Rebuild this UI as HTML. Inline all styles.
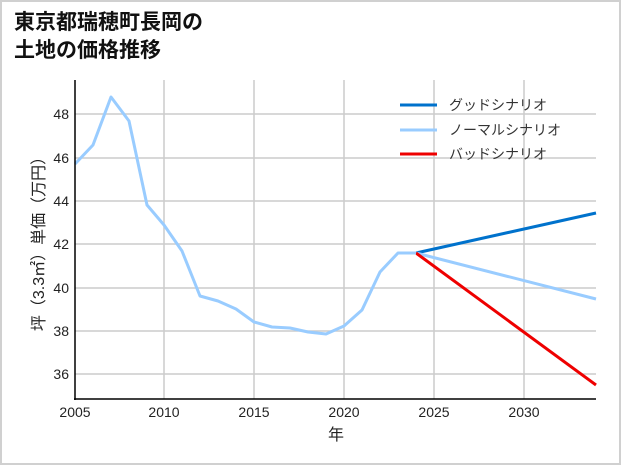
<!DOCTYPE html><html><head><meta charset="utf-8"><style>
body{margin:0;background:#fff}
svg{display:block}
text{font-family:"Liberation Sans","Noto Sans CJK JP",sans-serif}
</style></head><body>
<svg width="621" height="465" viewBox="0 0 621 465">
<rect x="1" y="1" width="619" height="463" fill="#fff" stroke="#d0d0d0" stroke-width="2"/>
<text x="14" y="29" font-size="21" font-weight="bold" fill="#111">東京都瑞穂町長岡の</text>
<text x="14" y="57" font-size="21" font-weight="bold" fill="#111">土地の価格推移</text>
<g stroke="#cccccc" stroke-width="1.5">
<line x1="164" y1="80" x2="164" y2="399"/><line x1="254" y1="80" x2="254" y2="399"/>
<line x1="344" y1="80" x2="344" y2="399"/><line x1="434" y1="80" x2="434" y2="399"/>
<line x1="524" y1="80" x2="524" y2="399"/>
<line x1="75" y1="114" x2="596" y2="114"/><line x1="75" y1="158" x2="596" y2="158"/>
<line x1="75" y1="201" x2="596" y2="201"/><line x1="75" y1="244" x2="596" y2="244"/>
<line x1="75" y1="288" x2="596" y2="288"/><line x1="75" y1="331" x2="596" y2="331"/>
<line x1="75" y1="374" x2="596" y2="374"/>
</g>
<g fill="none" stroke-width="3" stroke-linejoin="round">
<polyline stroke="#0072cc" points="416,253 596,213"/>
<polyline stroke="#99ccff" points="416,253 596,299"/>
<polyline stroke="#ee0000" points="416,253 596,385"/>
<polyline stroke="#99ccff" points="75,164 93,145 111,97 129,121 147,205 164,225 182,251 200,296 218,301 236,309 254,322 272,327 290,328 308,332 326,334 344,326 362,310 380,272 398,253 416,253"/>
</g>
<line x1="75" y1="80" x2="75" y2="400" stroke="#000" stroke-width="1.5"/>
<line x1="74" y1="399" x2="596" y2="399" stroke="#000" stroke-width="1.5"/>
<g font-size="14" fill="#222" text-anchor="end">
<text x="69" y="119">48</text><text x="69" y="163">46</text><text x="69" y="206">44</text>
<text x="69" y="249">42</text><text x="69" y="293">40</text><text x="69" y="336">38</text><text x="69" y="379">36</text>
</g>
<g font-size="14" fill="#222" text-anchor="middle">
<text x="75" y="417">2005</text><text x="164" y="417">2010</text><text x="254" y="417">2015</text>
<text x="344" y="417">2020</text><text x="434" y="417">2025</text><text x="524" y="417">2030</text>
<text x="336" y="440" font-size="16">年</text>
</g>
<text transform="translate(44,240) rotate(-90)" font-size="16" fill="#222" text-anchor="middle">坪（3.3㎡）単価（万円）</text>
<g stroke-width="3">
<line x1="400" y1="105" x2="437" y2="105" stroke="#0072cc"/>
<line x1="400" y1="130" x2="437" y2="130" stroke="#99ccff"/>
<line x1="400" y1="154" x2="437" y2="154" stroke="#ee0000"/>
</g>
<g font-size="14" fill="#333">
<text x="449" y="110">グッドシナリオ</text>
<text x="449" y="135">ノーマルシナリオ</text>
<text x="449" y="159">バッドシナリオ</text>
</g>
</svg>
</body></html>
